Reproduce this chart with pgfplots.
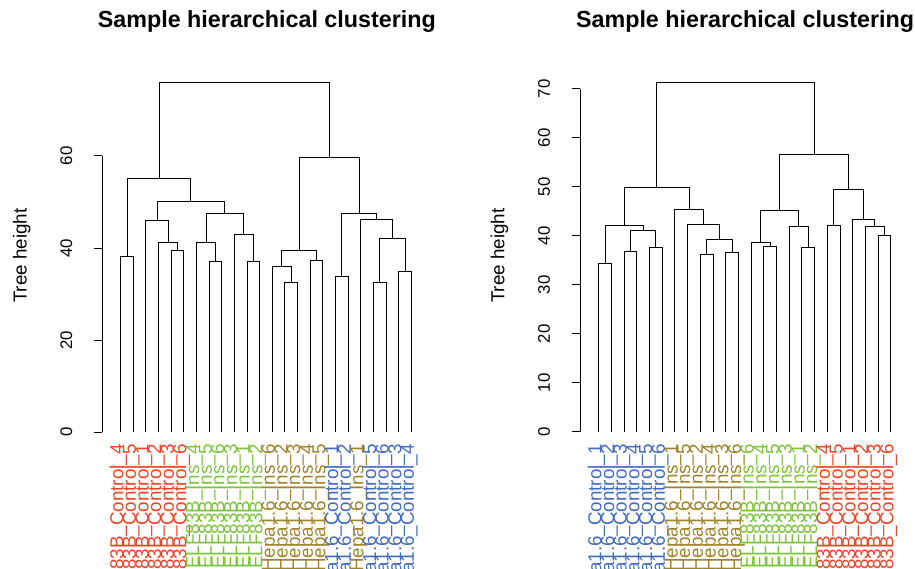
\documentclass[border=0pt]{standalone}
\usepackage{pgfplots}
\pgfplotsset{compat=1.18}
\usepackage{fontspec}
\setmainfont{Liberation Sans}
\definecolor{cred}{RGB}{239,68,40}
\definecolor{cgreen}{RGB}{124,196,56}
\definecolor{cbrown}{RGB}{160,130,40}
\definecolor{cblue}{RGB}{66,107,194}
\newcommand{\labfont}{\fontsize{18.8}{22}\selectfont}
\newcommand{\tickfont}{\fontsize{16.8}{20}\selectfont}
\tikzset{lab/.style={rotate=90, anchor=base east, inner sep=0pt, font=\labfont}}
\pgfplotsset{
  dend/.style={black, line width=1pt, mark=none},
  dendax/.style={
    scale only axis, clip=false,
    axis line style={draw=none},
    xtick=\empty, ytick pos=left, tick align=outside,
    major tick length=8.5pt,
    ytick style={black, line width=1pt},
    yticklabel style={rotate=90, anchor=south, font=\tickfont},
    yticklabel shift=18pt,
    /pgf/number format/assume math mode=true,
    ylabel={Tree height},
    ylabel style={font=\labfont, anchor=center},
    title={Sample hierarchical clustering},
    title style={font=\bfseries\fontsize{23.3}{28}\selectfont, anchor=base, yshift=34.6pt},
  },
}
\newcommand{\mg}[5]{\addplot[dend] coordinates {(#1,#2) (#1,#5) (#3,#5) (#3,#4)};}
\begin{document}
\begin{tikzpicture}
\useasboundingbox (0,0) rectangle (915pt,569pt);
\clip (0,0) rectangle (915pt,569pt);
% ---------------- left dendrogram ----------------
\begin{axis}[dendax,
  at={(102.3pt,123pt)}, anchor=south west,
  width=322.7pt, height=377.4pt,
  xmin=-0.456, xmax=25.08, ymin=-3.04, ymax=79.0,
  ytick={0,20,40,60},
  ylabel style={at={(axis description cs:-0.2495,0.504)}},
  title style={at={(axis description cs:0.51,1)}},
]
\mg{1}{0}{2}{0}{38.1}
\mg{5}{0}{6}{0}{39.4}
\mg{4}{0}{5.5}{39.4}{41.2}
\mg{3}{0}{4.75}{41.2}{45.9}
\mg{8}{0}{9}{0}{37.1}
\mg{7}{0}{8.5}{37.1}{41.2}
\mg{11}{0}{12}{0}{37.0}
\mg{10}{0}{11.5}{37.0}{42.9}
\mg{7.75}{41.2}{10.75}{42.9}{47.4}
\mg{3.875}{45.9}{9.25}{47.4}{50.1}
\mg{1.5}{38.1}{6.5625}{50.1}{55.2}
\mg{14}{0}{15}{0}{32.6}
\mg{13}{0}{14.5}{32.6}{35.9}
\mg{16}{0}{17}{0}{37.3}
\mg{13.75}{35.9}{16.5}{37.3}{39.5}
\mg{18}{0}{19}{0}{33.8}
\mg{21}{0}{22}{0}{32.5}
\mg{23}{0}{24}{0}{34.9}
\mg{21.5}{32.5}{23.5}{34.9}{42.0}
\mg{20}{0}{22.5}{42.0}{46.2}
\mg{18.5}{33.8}{21.25}{46.2}{47.5}
\mg{15.125}{39.5}{19.875}{47.5}{59.6}
\mg{4.03125}{55.2}{17.5}{59.6}{76.0}
\draw[black, line width=1pt] (axis cs:-0.456,0) -- (axis cs:-0.456,60);
\node[lab,text=cred] at (axis cs:1.206,-2.61) {Cell:ELF83B\_Control\_4};
\node[lab,text=cred] at (axis cs:2.206,-2.61) {Cell:ELF83B\_Control\_5};
\node[lab,text=cred] at (axis cs:3.206,-2.61) {Cell:ELF83B\_Control\_1};
\node[lab,text=cred] at (axis cs:4.206,-2.61) {Cell:ELF83B\_Control\_2};
\node[lab,text=cred] at (axis cs:5.206,-2.61) {Cell:ELF83B\_Control\_3};
\node[lab,text=cred] at (axis cs:6.206,-2.61) {Cell:ELF83B\_Control\_6};
\node[lab,text=cgreen] at (axis cs:7.206,-2.61) {Cell:ELF83B\_Ins\_4};
\node[lab,text=cgreen] at (axis cs:8.206,-2.61) {Cell:ELF83B\_Ins\_5};
\node[lab,text=cgreen] at (axis cs:9.206,-2.61) {Cell:ELF83B\_Ins\_6};
\node[lab,text=cgreen] at (axis cs:10.206,-2.61) {Cell:ELF83B\_Ins\_3};
\node[lab,text=cgreen] at (axis cs:11.206,-2.61) {Cell:ELF83B\_Ins\_1};
\node[lab,text=cgreen] at (axis cs:12.206,-2.61) {Cell:ELF83B\_Ins\_2};
\node[lab,text=cbrown] at (axis cs:13.206,-2.61) {Cell:Hepa1.6\_Ins\_6};
\node[lab,text=cbrown] at (axis cs:14.206,-2.61) {Cell:Hepa1.6\_Ins\_2};
\node[lab,text=cbrown] at (axis cs:15.206,-2.61) {Cell:Hepa1.6\_Ins\_3};
\node[lab,text=cbrown] at (axis cs:16.206,-2.61) {Cell:Hepa1.6\_Ins\_4};
\node[lab,text=cbrown] at (axis cs:17.206,-2.61) {Cell:Hepa1.6\_Ins\_5};
\node[lab,text=cblue] at (axis cs:18.206,-2.61) {Cell:Hepa1.6\_Control\_1};
\node[lab,text=cblue] at (axis cs:19.206,-2.61) {Cell:Hepa1.6\_Control\_2};
\node[lab,text=cbrown] at (axis cs:20.206,-2.61) {Cell:Hepa1.6\_Ins\_1};
\node[lab,text=cblue] at (axis cs:21.206,-2.61) {Cell:Hepa1.6\_Control\_5};
\node[lab,text=cblue] at (axis cs:22.206,-2.61) {Cell:Hepa1.6\_Control\_6};
\node[lab,text=cblue] at (axis cs:23.206,-2.61) {Cell:Hepa1.6\_Control\_3};
\node[lab,text=cblue] at (axis cs:24.206,-2.61) {Cell:Hepa1.6\_Control\_4};
\end{axis}
% ---------------- right dendrogram ----------------
\begin{axis}[dendax,
  at={(580pt,123pt)}, anchor=south west,
  width=323pt, height=377.4pt,
  xmin=-0.472, xmax=24.96, ymin=-2.857, ymax=74.16,
  ytick={0,10,20,30,40,50,60,70},
  ylabel style={at={(axis description cs:-0.249,0.504)}},
  title style={at={(axis description cs:0.511,1)}},
]
\mg{1}{0}{2}{0}{34.4}
\mg{3}{0}{4}{0}{36.9}
\mg{5}{0}{6}{0}{37.6}
\mg{3.5}{36.9}{5.5}{37.6}{41.1}
\mg{1.5}{34.4}{4.5}{41.1}{42.1}
\mg{9}{0}{10}{0}{36.2}
\mg{11}{0}{12}{0}{36.6}
\mg{9.5}{36.2}{11.5}{36.6}{39.2}
\mg{8}{0}{10.5}{39.2}{42.4}
\mg{7}{0}{9.25}{42.4}{45.4}
\mg{3}{42.1}{8.125}{45.4}{49.8}
\mg{14}{0}{15}{0}{37.9}
\mg{13}{0}{14.5}{37.9}{38.7}
\mg{17}{0}{18}{0}{37.7}
\mg{16}{0}{17.5}{37.7}{42.0}
\mg{13.75}{38.7}{16.75}{42.0}{45.2}
\mg{19}{0}{20}{0}{42.2}
\mg{23}{0}{24}{0}{40.1}
\mg{22}{0}{23.5}{40.1}{42.0}
\mg{21}{0}{22.75}{42.0}{43.3}
\mg{19.5}{42.2}{21.875}{43.3}{49.4}
\mg{15.25}{45.2}{20.6875}{49.4}{56.6}
\mg{5.5625}{49.8}{17.96875}{56.6}{71.3}
\draw[black, line width=1pt] (axis cs:-0.472,0) -- (axis cs:-0.472,70);
\node[lab,text=cblue] at (axis cs:1.205,-2.45) {Cell:Hepa1.6\_Control\_1};
\node[lab,text=cblue] at (axis cs:2.205,-2.45) {Cell:Hepa1.6\_Control\_2};
\node[lab,text=cblue] at (axis cs:3.205,-2.45) {Cell:Hepa1.6\_Control\_3};
\node[lab,text=cblue] at (axis cs:4.205,-2.45) {Cell:Hepa1.6\_Control\_4};
\node[lab,text=cblue] at (axis cs:5.205,-2.45) {Cell:Hepa1.6\_Control\_5};
\node[lab,text=cblue] at (axis cs:6.205,-2.45) {Cell:Hepa1.6\_Control\_6};
\node[lab,text=cbrown] at (axis cs:7.205,-2.45) {Cell:Hepa1.6\_Ins\_1};
\node[lab,text=cbrown] at (axis cs:8.205,-2.45) {Cell:Hepa1.6\_Ins\_5};
\node[lab,text=cbrown] at (axis cs:9.205,-2.45) {Cell:Hepa1.6\_Ins\_2};
\node[lab,text=cbrown] at (axis cs:10.205,-2.45) {Cell:Hepa1.6\_Ins\_4};
\node[lab,text=cbrown] at (axis cs:11.205,-2.45) {Cell:Hepa1.6\_Ins\_3};
\node[lab,text=cbrown] at (axis cs:12.205,-2.45) {Cell:Hepa1.6\_Ins\_6};
\node[lab,text=cgreen] at (axis cs:13.205,-2.45) {Cell:ELF83B\_Ins\_6};
\node[lab,text=cgreen] at (axis cs:14.205,-2.45) {Cell:ELF83B\_Ins\_4};
\node[lab,text=cgreen] at (axis cs:15.205,-2.45) {Cell:ELF83B\_Ins\_5};
\node[lab,text=cgreen] at (axis cs:16.205,-2.45) {Cell:ELF83B\_Ins\_3};
\node[lab,text=cgreen] at (axis cs:17.205,-2.45) {Cell:ELF83B\_Ins\_1};
\node[lab,text=cgreen] at (axis cs:18.205,-2.45) {Cell:ELF83B\_Ins\_2};
\node[lab,text=cred] at (axis cs:19.205,-2.45) {Cell:ELF83B\_Control\_4};
\node[lab,text=cred] at (axis cs:20.205,-2.45) {Cell:ELF83B\_Control\_5};
\node[lab,text=cred] at (axis cs:21.205,-2.45) {Cell:ELF83B\_Control\_1};
\node[lab,text=cred] at (axis cs:22.205,-2.45) {Cell:ELF83B\_Control\_2};
\node[lab,text=cred] at (axis cs:23.205,-2.45) {Cell:ELF83B\_Control\_3};
\node[lab,text=cred] at (axis cs:24.205,-2.45) {Cell:ELF83B\_Control\_6};
\end{axis}
\end{tikzpicture}
\end{document}
